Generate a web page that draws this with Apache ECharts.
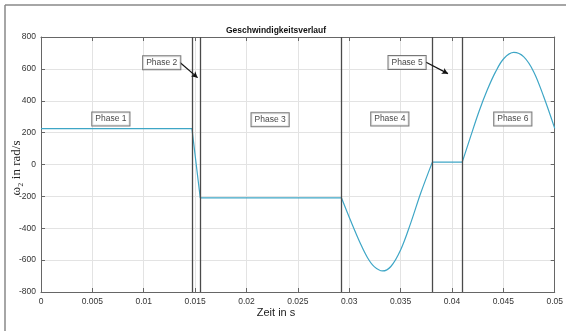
<!DOCTYPE html>
<html><head><meta charset="utf-8">
<script src="https://cdn.jsdelivr.net/npm/echarts@6/dist/echarts.min.js"></script>
<style>html,body{margin:0;padding:0;background:#fff}#c{width:566px;height:331px}</style>
</head><body><div id="c"></div>
<script>
// Phase 1-3 (straight segments)
const segAT = [0, 0.01469, 0.0155, 0.02925];
const segAV = [225, 225, -210, -210];
// Phase 4 (curved)
const segBT = [0.02925, 0.03016, 0.03113, 0.03178, 0.03243, 0.03324, 0.03405, 0.03502, 0.03599, 0.03696, 0.03809];
const segBV = [-210, -356, -502, -585, -641, -668, -640, -533, -366, -179, 15];
// Phase 5 (flat)
const segCT = [0.03809, 0.0410];
const segCV = [15, 15];
// Phase 6 (curved)
const segDT = [0.0410, 0.04181, 0.04262, 0.04343, 0.04424, 0.04505, 0.04602, 0.04699, 0.04796, 0.04893, 0.05];
const segDV = [15, 175, 331, 467, 581, 665, 703, 675, 581, 425, 227];
// phase boundaries
const phaseLines = [0.01469, 0.0155, 0.02925, 0.03809, 0.0410];
// phase labels
const labelNames = ['Phase 1', 'Phase 2', 'Phase 3', 'Phase 4', 'Phase 5', 'Phase 6'];
const labelT = [0.0068, 0.01175, 0.0223, 0.03395, 0.03563, 0.04592];
const labelV = [285, 638, 281, 286, 640, 286];
// arrows [startT, startV, endT, endV]
const arrows = [[0.0135, 642, 0.01524, 545], [0.03748, 642, 0.03961, 570]];

const xTicks = [0, 0.005, 0.01, 0.015, 0.02, 0.025, 0.03, 0.035, 0.04, 0.045, 0.05];
const yTicks = [-800, -600, -400, -200, 0, 200, 400, 600, 800];

const zip = (a, b) => a.map((v, i) => [v, b[i]]);
const lineColor = '#3ea6c6';
const font = 'Liberation Sans, Arial, sans-serif';

const chart = echarts.init(document.getElementById('c'));
const baseLine = (data, smooth) => ({
  type: 'line', data, smooth: smooth ? 0.35 : false, showSymbol: false, symbol: 'none',
  lineStyle: { color: lineColor, width: 1.2 }, z: 3, silent: true
});
const series = [
  Object.assign(baseLine(zip(segAT, segAV), false), {
    markLine: {
      silent: true, symbol: ['none', 'none'], label: { show: false }, precision: 6,
      lineStyle: { color: '#4a4a4a', width: 1.3, type: 'solid' },
      data: phaseLines.map(v => ({ xAxis: v }))
    }
  }),
  baseLine(zip(segBT, segBV), true),
  baseLine(zip(segCT, segCV), false),
  baseLine(zip(segDT, segDV), true),
  {
    type: 'scatter', symbolSize: 0, z: 6, silent: true,
    data: labelNames.map((n, i) => ({ value: [labelT[i], labelV[i]], name: n })),
    label: {
      show: true, position: 'inside', formatter: p => p.name,
      fontFamily: font, fontSize: 8.5, color: '#111',
      backgroundColor: '#fff', borderColor: '#555', borderWidth: 1, padding: [2, 3, 2, 3]
    }
  },
  {
    type: 'line', data: [], z: 5, silent: true,
    markLine: {
      silent: true, symbol: ['none', 'arrow'], symbolSize: [5, 6], label: { show: false }, precision: 6,
      lineStyle: { color: '#111', width: 1.2, type: 'solid' },
      data: arrows.map(a => [{ coord: [a[0], a[1]] }, { coord: [a[2], a[3]] }])
    }
  }
];

const axisLabelStyle = { fontFamily: font, fontSize: 8.5, color: '#333' };
chart.setOption({
  animation: false,
  grid: { left: 41, right: 10, top: 37, bottom: 39, containLabel: false },
  xAxis: [{
    type: 'value', min: 0, max: 0.05, interval: 0.005,
    axisLine: { show: true, onZero: false, lineStyle: { color: '#666', width: 1 } },
    axisTick: { show: true, inside: true, length: 4, lineStyle: { color: '#666' } },
    axisLabel: Object.assign({ margin: 5, formatter: v => { const t = xTicks.find(x => Math.abs(x - v) < 1e-9); return String(t !== undefined ? t : v); } }, axisLabelStyle),
    splitLine: { show: true, lineStyle: { color: '#e3e3e3', width: 1 } }
  }, {
    type: 'value', position: 'top', min: 0, max: 0.05, interval: 0.005,
    axisLine: { show: true, onZero: false, lineStyle: { color: '#666', width: 1 } },
    axisTick: { show: true, inside: true, length: 4, lineStyle: { color: '#666' } },
    axisLabel: { show: false }, splitLine: { show: false }
  }],
  yAxis: [{
    type: 'value', min: -800, max: 800, interval: 200,
    axisLine: { show: true, onZero: false, lineStyle: { color: '#666', width: 1 } },
    axisTick: { show: true, inside: true, length: 4, lineStyle: { color: '#666' } },
    axisLabel: Object.assign({ margin: 5, formatter: v => String(yTicks.find(y => y === v) ?? v) }, axisLabelStyle),
    splitLine: { show: true, lineStyle: { color: '#e3e3e3', width: 1 } }
  }, {
    type: 'value', position: 'right', min: -800, max: 800, interval: 200,
    axisLine: { show: true, onZero: false, lineStyle: { color: '#666', width: 1 } },
    axisTick: { show: true, inside: true, length: 4, lineStyle: { color: '#666' } },
    axisLabel: { show: false }, splitLine: { show: false }
  }],
  graphic: [
    { type: 'line', shape: { x1: 5, y1: 5, x2: 566, y2: 5 }, style: { stroke: '#888', lineWidth: 1.5 } },
    { type: 'line', shape: { x1: 5, y1: 5, x2: 5, y2: 331 }, style: { stroke: '#888', lineWidth: 1.5 } },
    { type: 'text', x: 276, y: 31, style: { text: 'Geschwindigkeitsverlauf', font: 'bold 8.5px ' + font, fill: '#111', align: 'center', verticalAlign: 'middle' } },
    { type: 'text', x: 276, y: 313, style: { text: 'Zeit in s', font: '11px ' + font, fill: '#222', align: 'center', verticalAlign: 'middle' } },
    { type: 'text', x: 17, y: 168, rotation: Math.PI / 2, style: { text: 'ω₂ in rad/s', font: '13px Liberation Serif, Times New Roman, serif', fill: '#222', align: 'center', verticalAlign: 'middle' } }
  ],
  series
});
</script></body></html>
